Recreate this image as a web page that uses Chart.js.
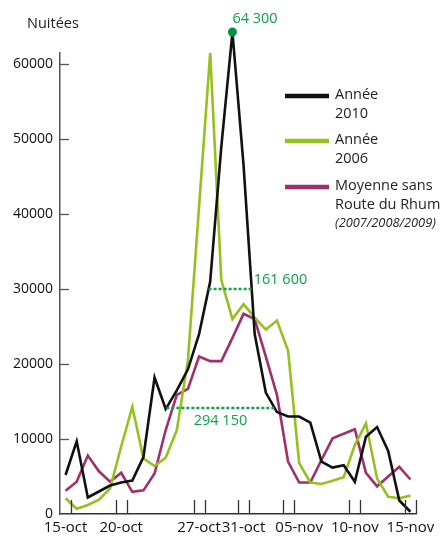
<!DOCTYPE html>
<html><head><meta charset="utf-8">
<script src="https://cdn.jsdelivr.net/npm/chart.js@4/dist/chart.umd.min.js"></script>
<style>html,body{margin:0;padding:0;background:#fff}#wrap{width:444px;height:537px;position:relative}</style>
</head><body><div id="wrap"><canvas id="c"></canvas></div>
<script>
const categories = ["15-oct","16-oct","17-oct","18-oct","19-oct","20-oct","21-oct","22-oct","23-oct","24-oct","25-oct","26-oct","27-oct","28-oct","29-oct","30-oct","31-oct","01-nov","02-nov","03-nov","04-nov","05-nov","06-nov","07-nov","08-nov","09-nov","10-nov","11-nov","12-nov","13-nov","14-nov","15-nov"];
const tickLabels = ["15-oct","20-oct","27-oct","31-oct","05-nov","10-nov","15-nov"];
const tickMarkCats = ["15-oct","20-oct","27-oct","31-oct","04-nov","10-nov","15-nov"];
const yTickValues = [0,10000,20000,30000,40000,50000,60000];
const annee2010 = [5200,9700,2200,3000,3800,4200,4450,7600,18200,14000,16500,19300,24000,31000,49000,64300,46500,24000,16200,13600,13000,13000,12200,7000,6200,6500,4300,10300,11600,8400,1800,300];
const annee2006 = [2100,700,1200,1900,3400,9000,14300,7400,6400,7500,11200,20500,41000,61500,31200,26000,28000,26200,24600,25800,21800,6800,4200,4000,4450,4900,9200,12100,4750,2300,2100,2450];
const moyenne = [3100,4300,7800,5700,4300,5500,2950,3150,5400,11200,15900,16700,21000,20400,20400,23500,26700,26000,21000,15900,7000,4200,4200,7200,10100,10700,11300,5500,3700,5000,6300,4600];
const seriesNames = [["Année","2010"],["Année","2006"],["Moyenne sans","Route du Rhum"]];
const legendNote = "(2007/2008/2009)";
const peakLabel = "64 300";
const bandLevels = [30000, 14150];
const bandLabels = ["161 600", "294 150"];
const yTitle = "Nuitées";

const COL_BLACK = "#111111", COL_GREEN = "#95c11f", COL_PURPLE = "#a02f6b", COL_ANN = "#12a04c";
const FONT = "'Open Sans', sans-serif";
const peakIdx = annee2010.indexOf(Math.max(...annee2010));

function crossing(data, level, dir) {
  let i = peakIdx;
  while (i + dir >= 0 && i + dir < data.length) {
    const a = data[i], b = data[i + dir];
    if (b <= level) return i + dir * (a - level) / (a - b);
    i += dir;
  }
  return i;
}

const deco = {
  id: 'deco',
  afterDatasetsDraw(chart) {
    const ctx = chart.ctx, xs = chart.scales.x, ys = chart.scales.y, ca = chart.chartArea;
    ctx.save();
    // y tick marks
    ctx.strokeStyle = "#555"; ctx.lineWidth = 1.3;
    ys.ticks.forEach(t => { if (t.value > 0) { const y = Math.round(ys.getPixelForValue(t.value)) + 0.5; ctx.beginPath(); ctx.moveTo(ca.left, y); ctx.lineTo(ca.left + 9, y); ctx.stroke(); } });
    // x tick marks
    ctx.strokeStyle = "#333";
    tickMarkCats.forEach(c => {
      const i = categories.indexOf(c);
      [i - 0.5, i + 0.5].forEach(v => {
        const x = Math.round(xs.getPixelForValue(v)) + 0.5;
        if (x - ca.left < 3) return;
        ctx.beginPath(); ctx.moveTo(x, ca.bottom); ctx.lineTo(x, ca.bottom - 14); ctx.stroke();
      });
    });
    // dashed bands
    ctx.strokeStyle = COL_ANN; ctx.lineWidth = 2.5; ctx.setLineDash([3, 2]);
    ctx.fillStyle = COL_ANN; ctx.font = "14.5px " + FONT; ctx.textBaseline = "middle";
    bandLevels.forEach((lv, k) => {
      const x1 = xs.getPixelForValue(crossing(annee2010, lv, -1));
      const x2 = xs.getPixelForValue(crossing(annee2010, lv, 1));
      const y = ys.getPixelForValue(lv);
      ctx.beginPath(); ctx.moveTo(x1, y); ctx.lineTo(x2, y); ctx.stroke();
      if (k === 0) { ctx.textAlign = "left"; ctx.fillText(bandLabels[k], x2 + 2, y - 9); }
      else { ctx.textAlign = "center"; ctx.fillText(bandLabels[k], (x1 + x2) / 2, y + 13); }
    });
    ctx.setLineDash([]);
    // peak dot and label
    const pt = chart.getDatasetMeta(0).data[peakIdx];
    ctx.fillStyle = "#009245";
    ctx.beginPath(); ctx.arc(pt.x, pt.y, 4.5, 0, Math.PI * 2); ctx.fill();
    ctx.fillStyle = COL_ANN;
    ctx.textAlign = "left"; ctx.fillText(peakLabel, pt.x, pt.y - 13);
    // title
    ctx.fillStyle = "#222"; ctx.font = "14.5px " + FONT; ctx.textAlign = "left";
    ctx.fillText(yTitle, 27, 24);
    // legend
    const cols = [COL_BLACK, COL_GREEN, COL_PURPLE];
    const ly = [96, 141, 187];
    cols.forEach((c, k) => {
      ctx.strokeStyle = c; ctx.lineWidth = 4.5;
      ctx.beginPath(); ctx.moveTo(285, ly[k]); ctx.lineTo(329, ly[k]); ctx.stroke();
      ctx.fillStyle = "#222"; ctx.font = "14.5px " + FONT;
      seriesNames[k].forEach((s, j) => ctx.fillText(s, 335, ly[k] - 1 + j * 18.5));
    });
    ctx.font = "italic 12.8px " + FONT;
    ctx.fillText(legendNote, 335, 223);
    ctx.restore();
  }
};

new Chart(document.getElementById('c'), {
  type: 'line',
  data: {
    labels: categories,
    datasets: [
      { label: "Année 2010", data: annee2010, borderColor: COL_BLACK, borderWidth: 2.6, clip: false, pointRadius: 0 },
      { label: "Année 2006", data: annee2006, borderColor: COL_GREEN, borderWidth: 2.6, pointRadius: 0, clip: false },
      { label: "Moyenne sans Route du Rhum", data: moyenne, borderColor: COL_PURPLE, borderWidth: 2.6, pointRadius: 0, clip: false }
    ]
  },
  options: {
    responsive: true, maintainAspectRatio: false, animation: false,
    layout: { padding: { top: 53, right: 28, left: 0, bottom: 0 } },
    plugins: { legend: { display: false }, tooltip: { enabled: false } },
    elements: { line: { tension: 0, borderJoinStyle: 'miter' } },
    scales: {
      x: {
        offset: true,
        grid: { display: false, drawTicks: false, offset: true },
        border: { display: true, color: "#333", width: 1.5 },
        ticks: { autoSkip: false, maxRotation: 0, minRotation: 0, padding: 5, color: "#111",
          font: { size: 15, family: FONT },
          callback: function(v, i) { const l = categories[i]; return tickLabels.includes(l) ? l : ''; } },
        afterFit: s => { s.height = 23; }
      },
      y: {
        min: 0, max: 61500,
        grid: { display: false, drawTicks: false },
        border: { display: true, color: "#555", width: 1.5 },
        afterBuildTicks: s => { s.ticks = yTickValues.map(v => ({ value: v })); },
        ticks: { padding: 7, color: "#111", font: { size: 14, family: FONT },
          callback: v => String(v) },
        afterFit: s => { s.width = 60; }
      }
    }
  },
  plugins: [deco]
});
</script></body></html>
